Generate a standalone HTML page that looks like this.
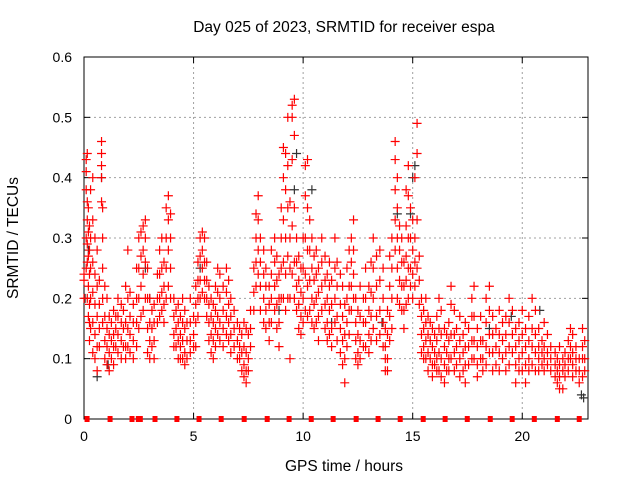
<!DOCTYPE html>
<html><head><meta charset="utf-8"><style>
html,body{margin:0;padding:0;background:#fff;}
svg{display:block;font-family:"Liberation Sans",sans-serif;}
</style></head><body>
<svg id="chart" width="640" height="480" viewBox="0 0 640 480">
<rect x="0" y="0" width="640" height="480" fill="#fff"/>
<g id="grid"></g>
<g id="axes"></g>
<g id="black"></g>
<g id="red"></g>
<text x="344" y="32" text-anchor="middle" font-size="15.5" fill="#000">Day 025 of 2023, SRMTID for receiver espa</text>
<text x="344" y="471" text-anchor="middle" font-size="15.5" fill="#000">GPS time / hours</text>
<text transform="translate(18,238) rotate(-90)" text-anchor="middle" font-size="15.5" fill="#000">SRMTID / TECUs</text>
</svg>
<script>
const xTicks=[0,5,10,15,20];
const yTicks=[0,0.1,0.2,0.3,0.4,0.5,0.6];
const yTickLabels=["0","0.1","0.2","0.3","0.4","0.5","0.6"];
const markerTimes=[0.14,1.19,2.19,2.48,2.57,3.24,4.24,5.25,6.26,7.31,8.36,9.36,10.37,11.37,12.42,13.42,14.43,15.48,16.48,17.49,18.54,19.54,20.55,21.6,22.6];
const redCols=[
[0.0,0.24,0.23,0.2],[0.1,0.43,0.41,0.38,0.3,0.25],[0.15,0.44,0.36,0.33,0.29,0.26,0.2],[0.2,0.35,0.31,0.27,0.22,0.17],[0.25,0.32,0.28,0.24,0.19,0.16,0.13],
[0.3,0.38,0.3,0.25,0.2,0.15],[0.4,0.4,0.33,0.26,0.21,0.16,0.11],[0.5,0.3,0.24,0.19,0.14,0.1],[0.6,0.28,0.22,0.17,0.12,0.08],
[0.7,0.23,0.19,0.15,0.12],[0.8,0.46,0.44,0.42,0.4,0.36],[0.85,0.35,0.3,0.25,0.2,0.16],[0.95,0.22,0.17,0.13,0.1],
[1.05,0.2,0.15,0.12,0.09],[1.15,0.17,0.14,0.11,0.08],[1.25,0.16,0.13,0.1],[1.35,0.18,0.14,0.12,0.09],[1.45,0.17,0.15,0.12],
[1.55,0.2,0.17,0.14,0.11],[1.7,0.19,0.16,0.13,0.1],[1.8,0.18,0.15,0.12],[1.9,0.22,0.16,0.12,0.1],[2.0,0.28,0.2,0.15,0.12],
[2.1,0.21,0.17,0.14,0.11],[2.25,0.19,0.16,0.13,0.1],[2.4,0.25,0.2,0.16,0.12],[2.5,0.3,0.25,0.2,0.15],[2.6,0.31,0.27,0.22,0.17],
[2.7,0.32,0.28,0.24,0.18],[2.8,0.33,0.3,0.26,0.2],[2.9,0.25,0.2,0.15,0.11],[3.0,0.2,0.16,0.13,0.1],[3.1,0.18,0.15,0.12],
[3.2,0.19,0.16,0.13,0.1],[3.35,0.24,0.2,0.16],[3.45,0.28,0.24,0.2,0.17],[3.55,0.3,0.25,0.21,0.18],[3.65,0.26,0.22,0.19,0.16],
[3.75,0.35,0.3,0.25,0.2],[3.85,0.37,0.33,0.28,0.22],[3.95,0.34,0.3,0.25,0.2],[4.1,0.2,0.17,0.14,0.12],[4.2,0.18,0.15,0.12],
[4.3,0.19,0.16,0.13,0.1],[4.4,0.17,0.14,0.12,0.1],[4.5,0.2,0.16,0.13,0.1],[4.6,0.18,0.15,0.11,0.09],[4.7,0.16,0.13,0.1],
[4.85,0.2,0.16,0.13,0.11],[5.0,0.17,0.14,0.12],[5.1,0.22,0.19,0.16,0.12],[5.2,0.26,0.23,0.2,0.17],[5.3,0.3,0.27,0.23,0.2],
[5.4,0.31,0.28,0.25,0.21],[5.5,0.3,0.26,0.23,0.2],[5.6,0.26,0.23,0.2,0.17],[5.7,0.22,0.19,0.16,0.13],[5.8,0.2,0.17,0.14,0.11],
[5.9,0.19,0.16,0.13,0.1],[6.0,0.22,0.18,0.15,0.12],[6.1,0.25,0.21,0.17,0.14],[6.2,0.24,0.2,0.16,0.13],[6.35,0.22,0.18,0.15,0.12],
[6.5,0.25,0.21,0.17,0.14],[6.6,0.23,0.19,0.16,0.13],[6.7,0.2,0.17,0.14,0.11],[6.85,0.18,0.15,0.12],[7.0,0.16,0.13,0.1],
[7.1,0.15,0.12,0.1],[7.2,0.14,0.11,0.08],[7.3,0.16,0.12,0.09,0.07],[7.4,0.15,0.11,0.08,0.06],[7.5,0.14,0.1,0.08],
[7.6,0.18,0.15,0.12],[7.75,0.25,0.21,0.18],[7.85,0.34,0.3,0.26,0.22],[7.95,0.37,0.33,0.28,0.24],[8.05,0.3,0.26,0.22,0.18],
[8.2,0.28,0.24,0.2,0.16],[8.3,0.25,0.22,0.18,0.15],[8.45,0.22,0.19,0.16,0.13],[8.55,0.28,0.24,0.2,0.16],[8.7,0.3,0.26,0.22,0.18],
[8.8,0.27,0.23,0.19,0.15],[8.9,0.24,0.2,0.16,0.12],[9.0,0.35,0.3,0.25,0.2],[9.1,0.45,0.4,0.33,0.26,0.2],[9.2,0.44,0.38,0.3,0.24,0.18],
[9.3,0.5,0.42,0.35,0.27,0.2],[9.4,0.36,0.3,0.25,0.2,0.1],[9.5,0.52,0.5,0.43,0.32,0.24],[9.6,0.53,0.47,0.35,0.26,0.2],
[9.7,0.3,0.26,0.22,0.18],[9.8,0.27,0.23,0.19,0.15],[9.9,0.25,0.21,0.17,0.14],[10.0,0.3,0.25,0.2,0.16],[10.1,0.42,0.37,0.3,0.24,0.18],
[10.2,0.43,0.35,0.28,0.22,0.17],[10.3,0.33,0.28,0.23,0.18],[10.4,0.3,0.25,0.2,0.16],[10.5,0.27,0.23,0.19,0.15],
[10.6,0.28,0.24,0.2,0.16],[10.7,0.25,0.21,0.17,0.13],[10.85,0.3,0.26,0.22,0.18],[11.0,0.27,0.23,0.19,0.15],
[11.1,0.24,0.2,0.16,0.13],[11.2,0.26,0.22,0.18,0.14],[11.3,0.23,0.19,0.15,0.12],[11.45,0.3,0.25,0.2,0.16],
[11.55,0.26,0.22,0.17,0.13],[11.7,0.24,0.19,0.15,0.11],[11.8,0.22,0.17,0.13,0.09],[11.9,0.19,0.14,0.1,0.06],
[12.0,0.25,0.2,0.16,0.12],[12.1,0.28,0.22,0.18,0.14],[12.2,0.3,0.26,0.22,0.18],[12.3,0.33,0.28,0.24,0.2],
[12.4,0.2,0.16,0.13,0.1],[12.5,0.18,0.14,0.11,0.09],[12.6,0.22,0.17,0.13,0.1],[12.75,0.2,0.16,0.12],[12.85,0.25,0.2,0.16,0.12],
[13.0,0.22,0.18,0.14,0.11],[13.1,0.26,0.21,0.17,0.13],[13.2,0.3,0.25,0.2,0.15],[13.35,0.27,0.22,0.17,0.13],
[13.5,0.28,0.23,0.18,0.14],[13.65,0.25,0.2,0.16,0.12],[13.75,0.15,0.12,0.1,0.08],[13.85,0.18,0.14,0.1,0.08],
[13.95,0.27,0.22,0.17,0.13],[14.05,0.3,0.25,0.2,0.15],[14.2,0.46,0.43,0.38,0.33,0.28],[14.3,0.4,0.35,0.3,0.25,0.2],
[14.4,0.32,0.28,0.23,0.19],[14.5,0.3,0.26,0.22,0.18],[14.6,0.26,0.22,0.18,0.15],[14.7,0.38,0.32,0.27,0.23,0.19],
[14.8,0.42,0.37,0.3,0.25,0.2],[14.9,0.35,0.3,0.25,0.22],[15.0,0.33,0.28,0.24,0.2],[15.1,0.4,0.3,0.26,0.22],
[15.2,0.49,0.44,0.33,0.25],[15.3,0.27,0.23,0.19],[15.4,0.2,0.17,0.14,0.11],[15.5,0.18,0.15,0.12,0.1],
[15.6,0.2,0.16,0.13,0.1],[15.7,0.17,0.14,0.11,0.08],[15.8,0.16,0.13,0.1],[15.9,0.15,0.12,0.09,0.07],
[16.0,0.14,0.11,0.09],[16.1,0.17,0.13,0.1,0.08],[16.2,0.2,0.15,0.11,0.08],[16.3,0.18,0.14,0.1,0.07],[16.45,0.15,0.12,0.09,0.06],
[16.55,0.14,0.11,0.08],[16.65,0.16,0.13,0.1,0.08],[16.75,0.22,0.19,0.14,0.1],[16.9,0.18,0.14,0.11,0.08],
[17.0,0.15,0.12,0.09],[17.15,0.17,0.13,0.1,0.07],[17.3,0.14,0.11,0.08],[17.4,0.16,0.12,0.09,0.06],[17.55,0.15,0.12,0.09],
[17.7,0.2,0.17,0.13,0.1],[17.8,0.22,0.17,0.13,0.1],[17.95,0.15,0.12,0.09,0.07],[18.1,0.17,0.13,0.1],[18.2,0.13,0.1,0.08],
[18.35,0.2,0.16,0.12,0.09],[18.5,0.22,0.18,0.14,0.11],[18.65,0.17,0.14,0.11,0.08],[18.8,0.15,0.12,0.09],
[18.95,0.18,0.14,0.11,0.08],[19.1,0.16,0.13,0.1],[19.25,0.17,0.14,0.11,0.08],[19.4,0.2,0.16,0.12,0.09],
[19.55,0.18,0.14,0.11],[19.7,0.15,0.12,0.09,0.06],[19.85,0.16,0.13,0.1,0.08],[20.0,0.18,0.14,0.11,0.08],
[20.15,0.15,0.12,0.09,0.06],[20.3,0.17,0.13,0.1,0.08],[20.45,0.2,0.15,0.12,0.09],[20.6,0.18,0.14,0.11,0.08],
[20.75,0.15,0.12,0.1,0.08],[20.9,0.13,0.11,0.09],[21.0,0.16,0.12,0.1,0.08],[21.15,0.14,0.11,0.09],[21.3,0.12,0.1,0.08],
[21.5,0.11,0.09,0.07],[21.6,0.1,0.08,0.06],[21.7,0.12,0.09,0.07,0.05],[21.85,0.1,0.08,0.05],[21.95,0.11,0.09,0.07],
[22.1,0.13,0.1,0.08],[22.2,0.15,0.12,0.1],[22.3,0.14,0.11,0.09,0.07],[22.45,0.12,0.1,0.08],[22.6,0.1,0.08,0.06],
[22.75,0.15,0.12,0.1,0.07],[22.85,0.13,0.1,0.08]
];
const blackPts=[[0.05,0.2],[0.2,0.28],[0.6,0.07],[0.8,0.4],[1.1,0.09],[2.8,0.25],[3.0,0.2],[5.3,0.25],[8.9,0.18],[9.7,0.44],[9.6,0.38],[10.4,0.38],[11.3,0.16],[13.6,0.16],[14.3,0.34],[14.9,0.34],[15.1,0.42],[15.0,0.4],[18.5,0.15],[19.5,0.17],[20.8,0.18],[22.7,0.04],[22.8,0.035]];
const X0=84,X1=588,Y0=419,Y1=57,XMAX=23,YMAX=0.6;
function xs(t){return X0+t/XMAX*(X1-X0);}
function ys(v){return Y0-v/YMAX*(Y0-Y1);}
const NS="http://www.w3.org/2000/svg";
function mk(tag,attrs,parent){const e=document.createElementNS(NS,tag);for(const k in attrs)e.setAttribute(k,attrs[k]);parent.appendChild(e);return e;}
const grid=document.getElementById('grid'),axes=document.getElementById('axes');
xTicks.forEach((t,i)=>{const x=xs(t);
 if(t>0){const l=mk('line',{x1:x,y1:Y1,x2:x,y2:Y0,stroke:'#a0a0a0','stroke-dasharray':'2,3'},grid);
 
 }
 mk('line',{x1:x,y1:Y0,x2:x,y2:Y0-6,stroke:'#000'},axes);
 mk('line',{x1:x,y1:Y1,x2:x,y2:Y1+6,stroke:'#000'},axes);
 const tx=mk('text',{x:x,y:Y0+22,'text-anchor':'middle','font-size':14,fill:'#000'},axes);tx.textContent=t;
 
 
});
yTicks.forEach((v,i)=>{const y=ys(v);
 if(v>0&&v<YMAX){const l=mk('line',{x1:X0,y1:y,x2:X1,y2:y,stroke:'#a0a0a0','stroke-dasharray':'2,3'},grid);
 
 }
 mk('line',{x1:X0,y1:y,x2:X0+6,y2:y,stroke:'#000'},axes);
 mk('line',{x1:X1,y1:y,x2:X1-6,y2:y,stroke:'#000'},axes);
 const tx=mk('text',{x:X0-12,y:y+5,'text-anchor':'end','font-size':14,fill:'#000'},axes);tx.textContent=yTickLabels[i];
 
 
});
const fr=mk('rect',{x:X0,y:Y1,width:X1-X0,height:Y0-Y1,fill:'none',stroke:'#000'},axes);


function plus(g,t,v,col){const x=xs(t),y=ys(v);
 const p=mk('path',{d:`M${x-4.5},${y}h9M${x},${y-4.5}v9`,stroke:col,'stroke-width':1.2,fill:'none'},g);
 return p;}
const bg=document.getElementById('black'),rg=document.getElementById('red');
blackPts.forEach(p=>{const e=plus(bg,p[0],p[1],'#333');
 
 });
redCols.forEach(c=>{for(let i=1;i<c.length;i++){const e=plus(rg,c[0],c[i],'#f00');
 
 }});
markerTimes.forEach(t=>{const x=xs(t);const r=mk('rect',{x:x-2.5,y:Y0-3,width:5,height:6,fill:'#f00'},rg);
 
 });
</script>
</body></html>
